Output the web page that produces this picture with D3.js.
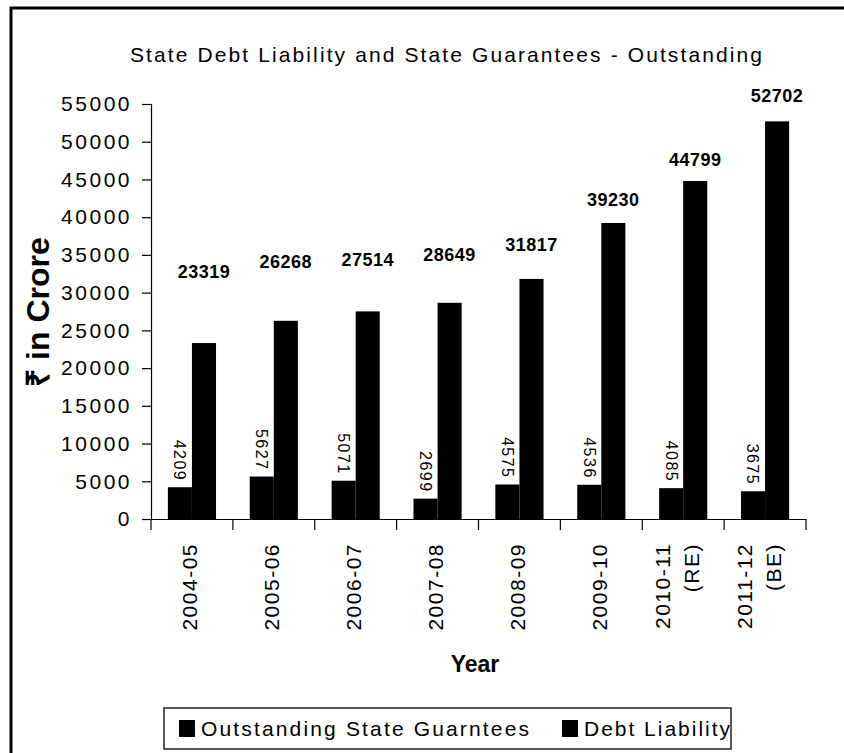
<!DOCTYPE html>
<html>
<head>
<meta charset="utf-8">
<script src="https://cdn.jsdelivr.net/npm/d3@7"></script>
<style>
  html, body { margin: 0; padding: 0; background: #fff; }
  svg { display: block; font-family: "Liberation Sans", Arial, sans-serif; }
</style>
</head>
<body>
<svg id="chart" width="844" height="753"></svg>
<script>
// Financial years shown on the x axis (second line is the estimate type)
const years = ["2004-05", "2005-06", "2006-07", "2007-08", "2008-09", "2009-10", "2010-11", "2011-12"];
const yearNotes = ["", "", "", "", "", "", "(RE)", "(BE)"];

// Outstanding amounts, ₹ crore
const guarantees = [4209, 5627, 5071, 2699, 4575, 4536, 4085, 3675];
const debtLiability = [23319, 26268, 27514, 28649, 31817, 39230, 44799, 52702];

const seriesNames = ["Outstanding State Guarntees", "Debt Liability"];
const yTicks = [0, 5000, 10000, 15000, 20000, 25000, 30000, 35000, 40000, 45000, 50000, 55000];

const svg = d3.select("#chart");

// outer frame
svg.append("rect")
  .attr("x", 11).attr("y", 8)
  .attr("width", 900).attr("height", 900)
  .attr("fill", "none").attr("stroke", "#000").attr("stroke-width", 3);

const plot = { left: 151, right: 806, top: 104, bottom: 519 };

const x = d3.scaleBand().domain(years).range([plot.left, plot.right]).paddingInner(0).paddingOuter(0);
const inner = d3.scaleBand().domain(["g", "d"]).range([0, x.bandwidth()]).paddingInner(0).paddingOuter(0.7);
const y = d3.scaleLinear().domain([0, 55000]).range([plot.bottom, plot.top]);

// title
svg.append("text")
  .attr("x", 130).attr("y", 62)
  .attr("textLength", 632).attr("lengthAdjust", "spacing")
  .attr("font-size", 21)
  .text("State Debt Liability and State Guarantees - Outstanding");

// y axis
const yAxis = d3.axisLeft(y).tickValues(yTicks).tickSize(9).tickPadding(10).tickFormat(d3.format("d"));
const gy = svg.append("g").attr("transform", `translate(${plot.left},0)`).call(yAxis);
gy.select(".domain").attr("stroke", "#000").attr("stroke-width", 1.2);
gy.selectAll(".tick line").attr("stroke", "#000").attr("stroke-width", 1.2);
gy.selectAll(".tick text").attr("font-size", 21).attr("letter-spacing", 2.5).attr("fill", "#000")
  .attr("font-family", "Liberation Sans, Arial, sans-serif");

// x axis
const xAxis = d3.axisBottom(x).tickSize(0).tickFormat("");
const gx = svg.append("g").attr("transform", `translate(0,${plot.bottom})`).call(xAxis);
gx.select(".domain").attr("stroke", "#000").attr("stroke-width", 1.2);
// category separators
const bounds = years.map(d => x(d)).concat([plot.right]);
gx.selectAll("line.sep").data(bounds).join("line")
  .attr("class", "sep")
  .attr("x1", d => d).attr("x2", d => d)
  .attr("y1", 0).attr("y2", 11)
  .attr("stroke", "#000").attr("stroke-width", 1.2);

// year labels, rotated
const xl = svg.append("g").selectAll("text").data(years).join("text")
  .attr("transform", d => `translate(${x(d) + x.bandwidth() / 2 - 2},543) rotate(-90)`)
  .attr("text-anchor", "end")
  .attr("font-size", 21).attr("letter-spacing", 1.5);
xl.each(function(d, i) {
  const t = d3.select(this);
  if (yearNotes[i]) {
    t.append("tspan").attr("x", 0).attr("dy", "-0.55em").text(d);
    t.append("tspan").attr("x", 0).attr("dy", "1.4em").text(yearNotes[i]);
  } else {
    t.append("tspan").attr("x", 0).attr("dy", "0.35em").text(d);
  }
});

// bars
const groups = svg.append("g").selectAll("g").data(years).join("g")
  .attr("transform", d => `translate(${x(d)},0)`);

groups.append("rect")
  .attr("x", inner("g")).attr("width", inner.bandwidth())
  .attr("y", (d, i) => y(guarantees[i]))
  .attr("height", (d, i) => y(0) - y(guarantees[i]))
  .attr("fill", "#000");

groups.append("rect")
  .attr("x", inner("d")).attr("width", inner.bandwidth())
  .attr("y", (d, i) => y(debtLiability[i]))
  .attr("height", (d, i) => y(0) - y(debtLiability[i]))
  .attr("fill", "#000");

// debt labels sit at hand-placed heights above their bars
const debtLabelLift = [65, 53, 45, 42, 28, 17, 15, 19];
groups.append("text")
  .attr("x", inner("d") + inner.bandwidth() / 2)
  .attr("y", (d, i) => y(debtLiability[i]) - debtLabelLift[i])
  .attr("text-anchor", "middle")
  .attr("font-size", 18).attr("font-weight", "bold").attr("letter-spacing", 0.5)
  .text((d, i) => debtLiability[i]);

groups.append("text")
  .attr("transform", (d, i) => `translate(${inner("g") + inner.bandwidth() / 2},${y(guarantees[i]) - 6}) rotate(90)`)
  .attr("text-anchor", "end")
  .attr("dy", "0.35em")
  .attr("font-size", 16).attr("letter-spacing", 1.5)
  .text((d, i) => guarantees[i]);

// axis titles
svg.append("text")
  .attr("transform", "translate(38,312) rotate(-90)")
  .attr("text-anchor", "middle").attr("dy", "0.35em")
  .attr("font-size", 32).attr("font-weight", "bold")
  .text("₹ in Crore");

svg.append("text")
  .attr("x", 475).attr("y", 672)
  .attr("text-anchor", "middle")
  .attr("font-size", 23).attr("font-weight", "bold")
  .text("Year");

// legend
const legend = svg.append("g");
legend.append("rect")
  .attr("x", 164).attr("y", 708).attr("width", 567).attr("height", 41)
  .attr("fill", "#fff").attr("stroke", "#222").attr("stroke-width", 1.5);
const legendX = [179, 562];
const legendW = [328, 146];
seriesNames.forEach((name, i) => {
  legend.append("rect")
    .attr("x", legendX[i]).attr("y", 720).attr("width", 16).attr("height", 17)
    .attr("fill", "#000");
  legend.append("text")
    .attr("x", legendX[i] + 22).attr("y", 736)
    .attr("font-size", 21)
    .attr("textLength", legendW[i]).attr("lengthAdjust", "spacing")
    .text(name);
});
</script>
</body>
</html>
